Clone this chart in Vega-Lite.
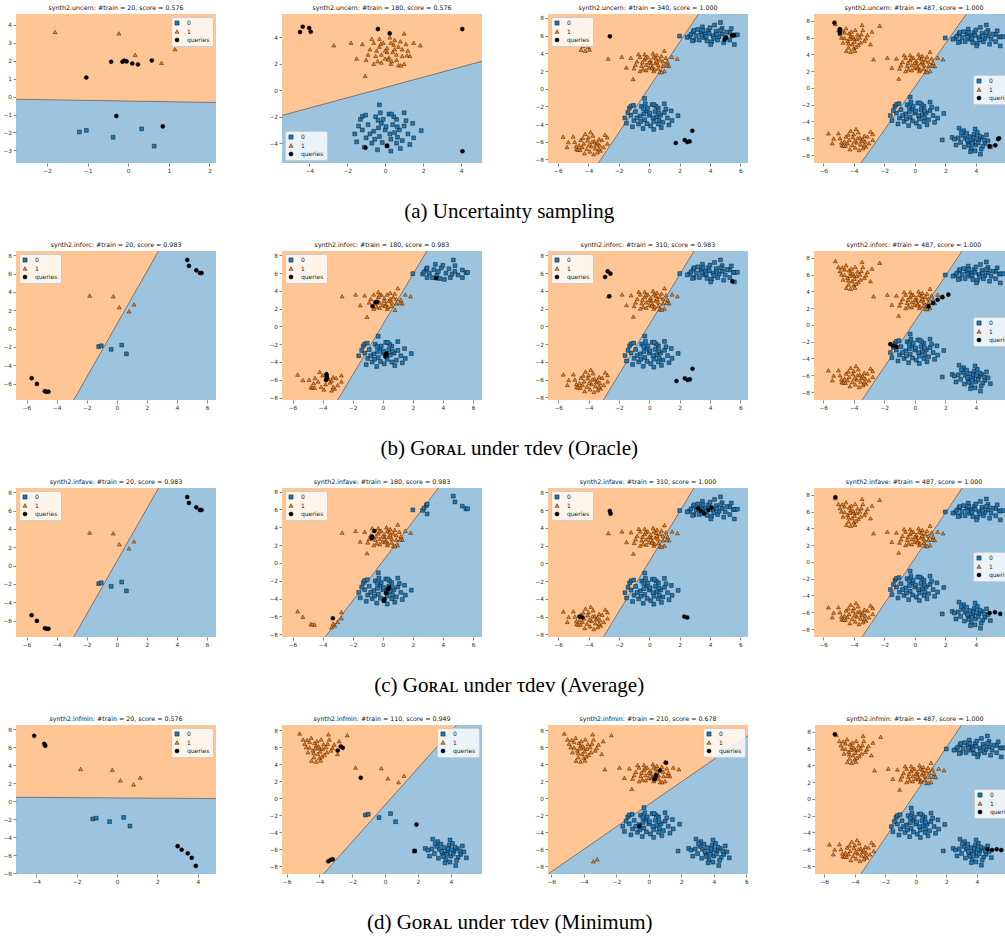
{
"$schema": "https://vega.github.io/schema/vega-lite/v6.json",
"padding": {"top": 4, "left": 2, "right": 0, "bottom": 4},
"datasets": {
"bd": [
{"p":"a1","x":-12,"y":0.19},{"p":"a1","x":12,"y":-0.69},
{"p":"a2","x":-12,"y":-4.46},{"p":"a2","x":12,"y":4.88},
{"p":"a3","x":-12,"y":-30.54},{"p":"a3","x":12,"y":30.82},
{"p":"a4","x":-12,"y":-30.76},{"p":"a4","x":12,"y":30.97},
{"p":"b1","x":-12,"y":-34.17},{"p":"b1","x":12,"y":35.07},
{"p":"b2","x":-12,"y":-33.7},{"p":"b2","x":12,"y":34.1},
{"p":"b3","x":-12,"y":-33.57},{"p":"b3","x":12,"y":33.97},
{"p":"b4","x":-12,"y":-32.1},{"p":"b4","x":12,"y":32.9},
{"p":"c1","x":-12,"y":-34.17},{"p":"c1","x":12,"y":35.07},
{"p":"c2","x":-12,"y":-26.42},{"p":"c2","x":12,"y":26.81},
{"p":"c3","x":-12,"y":-33.57},{"p":"c3","x":12,"y":33.97},
{"p":"c4","x":-12,"y":-32.1},{"p":"c4","x":12,"y":32.9},
{"p":"d1","x":-12,"y":0.55},{"p":"d1","x":12,"y":0.2},
{"p":"d2","x":-12,"y":-26.7},{"p":"d2","x":12,"y":25.14},
{"p":"d3","x":-12,"y":-16.56},{"p":"d3","x":12,"y":15.12},
{"p":"d4","x":-12,"y":-31.55},{"p":"d4","x":12,"y":33.01}
],
"pts": [
{"c":"T2","i":0,"k":"1","x":-2.7,"y":3.4},{"c":"T2","i":1,"k":"1","x":-1.5,"y":2.4},{"c":"T2","i":2,"k":"1","x":-1.05,"y":1.1},{"c":"T2","i":3,"k":"1","x":1.85,"y":3.4},{"c":"T2","i":4,"k":"1","x":1.0,"y":4.3},
{"c":"T2","i":5,"k":"1","x":-0.6,"y":3.6},{"c":"T2","i":6,"k":"1","x":-0.3,"y":3.9},{"c":"T2","i":7,"k":"1","x":0.5,"y":3.8},{"c":"T2","i":8,"k":"1","x":-0.4,"y":2.2},{"c":"T2","i":9,"k":"1","x":0.3,"y":2.0},
{"c":"T2","i":10,"k":"1","x":0.9,"y":2.6},{"c":"T2","i":11,"k":"1","x":-0.8,"y":3.1},{"c":"T2","i":12,"k":"1","x":-0.2,"y":2.7},{"c":"T2","i":13,"k":"1","x":0.1,"y":3.2},{"c":"T2","i":14,"k":"1","x":0.4,"y":2.9},
{"c":"T2","i":15,"k":"1","x":0.7,"y":3.3},{"c":"T2","i":16,"k":"1","x":-0.5,"y":2.6},{"c":"T2","i":17,"k":"1","x":0.0,"y":2.4},{"c":"T2","i":18,"k":"1","x":0.6,"y":2.3},{"c":"T2","i":19,"k":"1","x":1.2,"y":3.0},
{"c":"T2","i":20,"k":"1","x":-0.9,"y":2.7},{"c":"T2","i":21,"k":"1","x":-0.1,"y":3.6},{"c":"T2","i":22,"k":"1","x":0.3,"y":3.6},{"c":"T2","i":23,"k":"1","x":0.8,"y":3.7},{"c":"T2","i":24,"k":"1","x":1.3,"y":2.6},
{"c":"T2","i":25,"k":"1","x":-0.6,"y":2.0},{"c":"T2","i":26,"k":"1","x":0.2,"y":2.5},{"c":"T2","i":27,"k":"1","x":0.5,"y":3.1},{"c":"T2","i":28,"k":"1","x":-0.3,"y":3.3},{"c":"T2","i":29,"k":"1","x":0.1,"y":2.9},
{"c":"T2","i":30,"k":"1","x":1.5,"y":3.6},{"c":"T2","i":31,"k":"1","x":-1.2,"y":3.5},{"c":"T2","i":32,"k":"1","x":0.6,"y":2.7},{"c":"T2","i":33,"k":"1","x":-0.2,"y":2.1},{"c":"T2","i":34,"k":"1","x":0.9,"y":3.1},
{"c":"T2","i":35,"k":"1","x":0.35,"y":2.2},{"c":"T2","i":36,"k":"1","x":-0.7,"y":3.9},{"c":"T2","i":37,"k":"1","x":0.0,"y":3.0},{"c":"T2","i":38,"k":"1","x":0.45,"y":3.45},{"c":"T2","i":39,"k":"1","x":1.0,"y":2.0},
{"c":"T2","i":40,"k":"1","x":-0.45,"y":3.0},{"c":"T2","i":41,"k":"1","x":0.25,"y":4.0},{"c":"T2","i":42,"k":"1","x":1.1,"y":3.5},{"c":"T2","i":43,"k":"1","x":-1.0,"y":2.3},{"c":"T2","i":44,"k":"1","x":0.7,"y":1.9},
{"c":"S2","i":0,"k":"0","x":-0.3,"y":-1.1},{"c":"S2","i":1,"k":"0","x":1.9,"y":-3.05},{"c":"S2","i":2,"k":"0","x":-1.3,"y":-2.2},{"c":"S2","i":3,"k":"0","x":1.0,"y":-1.7},{"c":"S2","i":4,"k":"0","x":-1.6,"y":-3.3},
{"c":"S2","i":5,"k":"0","x":-0.5,"y":-2.0},{"c":"S2","i":6,"k":"0","x":0.2,"y":-1.8},{"c":"S2","i":7,"k":"0","x":0.6,"y":-2.2},{"c":"S2","i":8,"k":"0","x":-0.9,"y":-2.6},{"c":"S2","i":9,"k":"0","x":-0.2,"y":-2.5},
{"c":"S2","i":10,"k":"0","x":0.4,"y":-2.6},{"c":"S2","i":11,"k":"0","x":1.0,"y":-2.7},{"c":"S2","i":12,"k":"0","x":-1.2,"y":-3.0},{"c":"S2","i":13,"k":"0","x":-0.6,"y":-3.1},{"c":"S2","i":14,"k":"0","x":0.0,"y":-3.0},
{"c":"S2","i":15,"k":"0","x":0.5,"y":-3.2},{"c":"S2","i":16,"k":"0","x":1.2,"y":-3.3},{"c":"S2","i":17,"k":"0","x":-1.0,"y":-3.6},{"c":"S2","i":18,"k":"0","x":-0.3,"y":-3.5},{"c":"S2","i":19,"k":"0","x":0.3,"y":-3.7},
{"c":"S2","i":20,"k":"0","x":0.9,"y":-3.8},{"c":"S2","i":21,"k":"0","x":-0.7,"y":-4.0},{"c":"S2","i":22,"k":"0","x":0.1,"y":-4.2},{"c":"S2","i":23,"k":"0","x":0.6,"y":-4.0},{"c":"S2","i":24,"k":"0","x":-0.4,"y":-4.5},
{"c":"S2","i":25,"k":"0","x":1.3,"y":-4.1},{"c":"S2","i":26,"k":"0","x":-1.4,"y":-2.7},{"c":"S2","i":27,"k":"0","x":-0.1,"y":-2.2},{"c":"S2","i":28,"k":"0","x":0.75,"y":-3.0},{"c":"S2","i":29,"k":"0","x":-0.8,"y":-3.3},
{"c":"S2","i":30,"k":"0","x":0.25,"y":-3.3},{"c":"S2","i":31,"k":"0","x":-0.35,"y":-2.85},{"c":"S2","i":32,"k":"0","x":1.5,"y":-3.6},{"c":"S2","i":33,"k":"0","x":0.45,"y":-2.0},{"c":"S2","i":34,"k":"0","x":-1.1,"y":-4.3},
{"c":"S2","i":35,"k":"0","x":0.8,"y":-4.4},{"c":"S2","i":36,"k":"0","x":-0.15,"y":-3.95},{"c":"S2","i":37,"k":"0","x":0.05,"y":-2.75},{"c":"S2","i":38,"k":"0","x":-0.55,"y":-3.7},{"c":"S2","i":39,"k":"0","x":1.45,"y":-2.5},
{"c":"S2","i":40,"k":"0","x":-1.5,"y":-3.9},{"c":"S2","i":41,"k":"0","x":0.65,"y":-3.55},{"c":"S2","i":42,"k":"0","x":-0.25,"y":-1.7},{"c":"S2","i":43,"k":"0","x":0.3,"y":-4.6},{"c":"S2","i":44,"k":"0","x":1.1,"y":-2.3},
{"c":"S1","i":0,"k":"0","x":4.69,"y":7.49},{"c":"S1","i":1,"k":"0","x":4.8,"y":6.84},{"c":"S1","i":2,"k":"0","x":5.29,"y":6.36},{"c":"S1","i":3,"k":"0","x":5.53,"y":6.07},{"c":"S1","i":4,"k":"0","x":5.64,"y":6.07},
{"c":"S1","i":5,"k":"0","x":2.0,"y":5.95},{"c":"S1","i":6,"k":"0","x":2.65,"y":5.9},{"c":"S1","i":7,"k":"0","x":2.75,"y":6.15},{"c":"S1","i":8,"k":"0","x":2.9,"y":6.45},{"c":"S1","i":9,"k":"0","x":2.95,"y":6.6},
{"c":"S1","i":10,"k":"0","x":2.95,"y":5.5},{"c":"S1","i":11,"k":"0","x":3.4,"y":6.4},{"c":"S1","i":12,"k":"0","x":3.6,"y":5.8},{"c":"S1","i":13,"k":"0","x":3.9,"y":6.6},{"c":"S1","i":14,"k":"0","x":4.2,"y":6.0},
{"c":"S1","i":15,"k":"0","x":4.5,"y":5.5},{"c":"S1","i":16,"k":"0","x":3.3,"y":5.5},{"c":"S1","i":17,"k":"0","x":4.0,"y":6.9},{"c":"S1","i":18,"k":"0","x":4.8,"y":6.2},{"c":"S1","i":19,"k":"0","x":3.7,"y":6.2},
{"c":"S1","i":20,"k":"0","x":4.4,"y":6.5},{"c":"S1","i":21,"k":"0","x":5.0,"y":5.8},{"c":"S1","i":22,"k":"0","x":3.1,"y":6.0},{"c":"S1","i":23,"k":"0","x":4.1,"y":5.3},{"c":"S1","i":24,"k":"0","x":5.3,"y":5.5},
{"c":"S1","i":25,"k":"0","x":3.5,"y":7.0},{"c":"S1","i":26,"k":"0","x":4.6,"y":5.9},{"c":"S1","i":27,"k":"0","x":3.8,"y":5.4},{"c":"S1","i":28,"k":"0","x":4.3,"y":7.2},{"c":"S1","i":29,"k":"0","x":5.6,"y":5.0},
{"c":"S1","i":30,"k":"0","x":2.5,"y":5.8},{"c":"S1","i":31,"k":"0","x":3.95,"y":6.25},{"c":"S1","i":32,"k":"0","x":4.7,"y":6.6},{"c":"S1","i":33,"k":"0","x":3.2,"y":6.7},{"c":"S1","i":34,"k":"0","x":5.1,"y":6.4},
{"c":"S1","i":35,"k":"0","x":4.25,"y":5.7},{"c":"S1","i":36,"k":"0","x":3.55,"y":6.6},{"c":"S1","i":37,"k":"0","x":4.9,"y":5.2},{"c":"S1","i":38,"k":"0","x":5.8,"y":6.1},{"c":"S1","i":39,"k":"0","x":3.75,"y":5.9},
{"c":"S1","i":40,"k":"0","x":4.45,"y":6.15},{"c":"S1","i":41,"k":"0","x":2.85,"y":5.4},{"c":"S1","i":42,"k":"0","x":4.05,"y":5.0},{"c":"S1","i":43,"k":"0","x":5.4,"y":6.8},{"c":"S1","i":44,"k":"0","x":3.45,"y":6.05},
{"c":"T3","i":0,"k":"1","x":-5.66,"y":-5.42},{"c":"T3","i":1,"k":"1","x":-5.31,"y":-6.04},{"c":"T3","i":2,"k":"1","x":-4.78,"y":-6.84},{"c":"T3","i":3,"k":"1","x":-4.67,"y":-6.9},{"c":"T3","i":4,"k":"1","x":-4.54,"y":-6.9},
{"c":"T3","i":5,"k":"1","x":-2.75,"y":-5.5},{"c":"T3","i":6,"k":"1","x":-2.75,"y":-6.2},{"c":"T3","i":7,"k":"1","x":-3.0,"y":-6.6},{"c":"T3","i":8,"k":"1","x":-3.2,"y":-7.0},{"c":"T3","i":9,"k":"1","x":-3.4,"y":-7.2},
{"c":"T3","i":10,"k":"1","x":-3.3,"y":-6.8},{"c":"T3","i":11,"k":"1","x":-4.0,"y":-5.5},{"c":"T3","i":12,"k":"1","x":-3.6,"y":-5.9},{"c":"T3","i":13,"k":"1","x":-4.3,"y":-6.2},{"c":"T3","i":14,"k":"1","x":-3.8,"y":-6.5},
{"c":"T3","i":15,"k":"1","x":-4.5,"y":-5.8},{"c":"T3","i":16,"k":"1","x":-3.5,"y":-6.3},{"c":"T3","i":17,"k":"1","x":-4.1,"y":-6.8},{"c":"T3","i":18,"k":"1","x":-3.7,"y":-5.3},{"c":"T3","i":19,"k":"1","x":-4.9,"y":-6.0},
{"c":"T3","i":20,"k":"1","x":-3.3,"y":-5.7},{"c":"T3","i":21,"k":"1","x":-4.2,"y":-5.1},{"c":"T3","i":22,"k":"1","x":-3.9,"y":-7.1},{"c":"T3","i":23,"k":"1","x":-4.6,"y":-6.4},{"c":"T3","i":24,"k":"1","x":-3.4,"y":-6.1},
{"c":"T3","i":25,"k":"1","x":-3.1,"y":-5.8},{"c":"T3","i":26,"k":"1","x":-4.4,"y":-6.6},{"c":"T3","i":27,"k":"1","x":-3.75,"y":-6.0},{"c":"T3","i":28,"k":"1","x":-4.05,"y":-5.85},{"c":"T3","i":29,"k":"1","x":-3.55,"y":-6.75},
{"c":"T3","i":30,"k":"1","x":-5.0,"y":-5.4},{"c":"T3","i":31,"k":"1","x":-2.9,"y":-5.2},{"c":"T3","i":32,"k":"1","x":-4.25,"y":-7.3},{"c":"T3","i":33,"k":"1","x":-3.65,"y":-7.4},{"c":"T3","i":34,"k":"1","x":-4.8,"y":-6.5},
{"c":"T3","i":35,"k":"1","x":-3.95,"y":-6.35},{"c":"T3","i":36,"k":"1","x":-3.25,"y":-6.4},{"c":"T3","i":37,"k":"1","x":-4.35,"y":-5.55},{"c":"T3","i":38,"k":"1","x":-5.4,"y":-6.6},{"c":"T3","i":39,"k":"1","x":-3.85,"y":-4.9},
{"c":"T1","i":0,"k":"1","x":-4.48,"y":4.41},{"c":"T1","i":1,"k":"1","x":-4.34,"y":4.81},{"c":"T1","i":2,"k":"1","x":-4.0,"y":4.71},{"c":"T1","i":3,"k":"1","x":-3.92,"y":4.43},{"c":"T1","i":4,"k":"1","x":-4.2,"y":4.3},
{"c":"T1","i":5,"k":"1","x":-4.6,"y":6.6},{"c":"T1","i":6,"k":"1","x":-4.2,"y":6.2},{"c":"T1","i":7,"k":"1","x":-3.8,"y":5.8},{"c":"T1","i":8,"k":"1","x":-4.4,"y":5.6},{"c":"T1","i":9,"k":"1","x":-3.5,"y":6.4},
{"c":"T1","i":10,"k":"1","x":-4.8,"y":6.0},{"c":"T1","i":11,"k":"1","x":-3.9,"y":6.9},{"c":"T1","i":12,"k":"1","x":-4.1,"y":5.2},{"c":"T1","i":13,"k":"1","x":-3.3,"y":5.6},{"c":"T1","i":14,"k":"1","x":-4.7,"y":5.4},
{"c":"T1","i":15,"k":"1","x":-3.6,"y":6.0},{"c":"T1","i":16,"k":"1","x":-4.3,"y":6.5},{"c":"T1","i":17,"k":"1","x":-5.0,"y":6.9},{"c":"T1","i":18,"k":"1","x":-3.1,"y":6.3},{"c":"T1","i":19,"k":"1","x":-4.0,"y":5.9},
{"c":"T1","i":20,"k":"1","x":-3.7,"y":5.1},{"c":"T1","i":21,"k":"1","x":-4.5,"y":7.1},{"c":"T1","i":22,"k":"1","x":-2.3,"y":7.4},{"c":"T1","i":23,"k":"1","x":-2.8,"y":6.7},{"c":"T1","i":24,"k":"1","x":-4.9,"y":6.4},
{"c":"T1","i":25,"k":"1","x":-3.4,"y":6.9},{"c":"T1","i":26,"k":"1","x":-4.15,"y":6.7},{"c":"T1","i":27,"k":"1","x":-3.95,"y":5.5},{"c":"T1","i":28,"k":"1","x":-4.6,"y":5.95},{"c":"T1","i":29,"k":"1","x":-3.2,"y":5.9},
{"c":"T1","i":30,"k":"1","x":-5.2,"y":7.6},{"c":"T1","i":31,"k":"1","x":-3.75,"y":6.35},{"c":"T1","i":32,"k":"1","x":-4.35,"y":5.3},{"c":"T1","i":33,"k":"1","x":-3.55,"y":5.4},{"c":"T1","i":34,"k":"1","x":-2.9,"y":5.2},
{"c":"T1","i":35,"k":"1","x":-4.75,"y":6.85},{"c":"T1","i":36,"k":"1","x":-4.05,"y":6.1},{"c":"T1","i":37,"k":"1","x":-3.85,"y":4.9},{"c":"T1","i":38,"k":"1","x":-3.45,"y":7.5},{"c":"T1","i":39,"k":"1","x":-4.25,"y":5.85},
{"c":"S3","i":0,"k":"0","x":2.45,"y":-5.9},{"c":"S3","i":1,"k":"0","x":2.9,"y":-4.8},{"c":"S3","i":2,"k":"0","x":4.95,"y":-7.0},{"c":"S3","i":3,"k":"0","x":3.2,"y":-5.1},{"c":"S3","i":4,"k":"0","x":3.5,"y":-6.5},
{"c":"S3","i":5,"k":"0","x":3.9,"y":-5.5},{"c":"S3","i":6,"k":"0","x":4.2,"y":-6.2},{"c":"S3","i":7,"k":"0","x":3.6,"y":-5.8},{"c":"S3","i":8,"k":"0","x":4.0,"y":-6.8},{"c":"S3","i":9,"k":"0","x":3.3,"y":-6.0},
{"c":"S3","i":10,"k":"0","x":4.4,"y":-5.9},{"c":"S3","i":11,"k":"0","x":3.8,"y":-6.3},{"c":"S3","i":12,"k":"0","x":4.1,"y":-5.3},{"c":"S3","i":13,"k":"0","x":3.0,"y":-6.5},{"c":"S3","i":14,"k":"0","x":4.6,"y":-6.6},
{"c":"S3","i":15,"k":"0","x":3.7,"y":-7.2},{"c":"S3","i":16,"k":"0","x":2.7,"y":-6.8},{"c":"S3","i":17,"k":"0","x":4.3,"y":-7.9},{"c":"S3","i":18,"k":"0","x":3.95,"y":-7.5},{"c":"S3","i":19,"k":"0","x":3.4,"y":-5.4},
{"c":"S3","i":20,"k":"0","x":4.7,"y":-5.6},{"c":"S3","i":21,"k":"0","x":2.6,"y":-6.1},{"c":"S3","i":22,"k":"0","x":3.55,"y":-6.85},{"c":"S3","i":23,"k":"0","x":4.15,"y":-6.55},{"c":"S3","i":24,"k":"0","x":3.85,"y":-5.95},
{"c":"S3","i":25,"k":"0","x":4.45,"y":-6.95},{"c":"S3","i":26,"k":"0","x":3.15,"y":-5.65},{"c":"S3","i":27,"k":"0","x":3.75,"y":-6.6},{"c":"S3","i":28,"k":"0","x":4.25,"y":-5.75},{"c":"S3","i":29,"k":"0","x":3.05,"y":-5.35},
{"c":"S3","i":30,"k":"0","x":4.8,"y":-6.3},{"c":"S3","i":31,"k":"0","x":3.65,"y":-7.6},{"c":"S3","i":32,"k":"0","x":1.8,"y":-6.2},{"c":"S3","i":33,"k":"0","x":4.35,"y":-7.3},{"c":"S3","i":34,"k":"0","x":3.45,"y":-6.25},
{"c":"S3","i":35,"k":"0","x":4.05,"y":-6.05},{"c":"S3","i":36,"k":"0","x":2.85,"y":-5.95},{"c":"S3","i":37,"k":"0","x":3.95,"y":-4.9},{"c":"S3","i":38,"k":"0","x":4.55,"y":-6.2},{"c":"S3","i":39,"k":"0","x":3.25,"y":-7.05},
{"c":"I","k":"1","x":-1.8,"y":3.6},{"c":"I","k":"1","x":-0.23,"y":3.52},{"c":"I","k":"1","x":0.17,"y":2.33},{"c":"I","k":"1","x":0.82,"y":1.88},{"c":"I","k":"1","x":1.15,"y":2.64},
{"c":"I","k":"0","x":-1.2,"y":-1.97},{"c":"I","k":"0","x":-1.03,"y":-1.88},{"c":"I","k":"0","x":-0.37,"y":-2.27},{"c":"I","k":"0","x":0.33,"y":-1.8},{"c":"I","k":"0","x":0.64,"y":-2.76},
{"c":"X","p":"d3","k":"1","x":-3.41,"y":-7.41},{"c":"X","p":"d3","k":"1","x":-3.17,"y":-7.18},
{"c":"Q","p":"a1","k":"queries","x":-1.03,"y":1.06},{"c":"Q","p":"a1","k":"queries","x":-0.42,"y":1.94},{"c":"Q","p":"a1","k":"queries","x":-0.14,"y":1.94},{"c":"Q","p":"a1","k":"queries","x":-0.1,"y":2.0},{"c":"Q","p":"a1","k":"queries","x":-0.04,"y":1.96},
{"c":"Q","p":"a1","k":"queries","x":0.1,"y":1.84},{"c":"Q","p":"a1","k":"queries","x":0.24,"y":1.79},{"c":"Q","p":"a1","k":"queries","x":0.58,"y":2.01},{"c":"Q","p":"a1","k":"queries","x":-0.29,"y":-1.08},{"c":"Q","p":"a1","k":"queries","x":0.85,"y":-1.66},
{"c":"Q","p":"a2","k":"queries","x":-4.48,"y":4.41},{"c":"Q","p":"a2","k":"queries","x":-4.34,"y":4.81},{"c":"Q","p":"a2","k":"queries","x":-4.0,"y":4.71},{"c":"Q","p":"a2","k":"queries","x":-3.92,"y":4.43},{"c":"Q","p":"a2","k":"queries","x":-0.38,"y":4.63},
{"c":"Q","p":"a2","k":"queries","x":0.24,"y":4.3},{"c":"Q","p":"a2","k":"queries","x":4.06,"y":4.63},{"c":"Q","p":"a2","k":"queries","x":-1.03,"y":-4.35},{"c":"Q","p":"a2","k":"queries","x":0.1,"y":-4.2},{"c":"Q","p":"a2","k":"queries","x":4.07,"y":-4.61},
{"c":"Q","p":"a3","k":"queries","x":-2.58,"y":5.92},{"c":"Q","p":"a3","k":"queries","x":4.96,"y":5.54},{"c":"Q","p":"a3","k":"queries","x":5.07,"y":5.77},{"c":"Q","p":"a3","k":"queries","x":5.44,"y":5.99},{"c":"Q","p":"a3","k":"queries","x":5.57,"y":6.03},
{"c":"Q","p":"a3","k":"queries","x":2.84,"y":-4.76},{"c":"Q","p":"a3","k":"queries","x":2.34,"y":-5.8},{"c":"Q","p":"a3","k":"queries","x":2.51,"y":-6.03},{"c":"Q","p":"a3","k":"queries","x":2.66,"y":-5.96},{"c":"Q","p":"a3","k":"queries","x":1.75,"y":-6.14},
{"c":"Q","p":"a4","k":"queries","x":-5.26,"y":7.76},{"c":"Q","p":"a4","k":"queries","x":-4.91,"y":7.0},{"c":"Q","p":"a4","k":"queries","x":-4.91,"y":6.73},{"c":"Q","p":"a4","k":"queries","x":-4.91,"y":6.54},
{"c":"Q","p":"a4","k":"queries","x":4.89,"y":-6.97},{"c":"Q","p":"a4","k":"queries","x":5.28,"y":-6.85},{"c":"Q","p":"a4","k":"queries","x":5.46,"y":-6.1},{"c":"Q","p":"a4","k":"queries","x":5.52,"y":-6.0},
{"c":"Q","p":"b1","k":"queries","x":-5.66,"y":-5.42},{"c":"Q","p":"b1","k":"queries","x":-5.31,"y":-6.04},{"c":"Q","p":"b1","k":"queries","x":-4.78,"y":-6.84},{"c":"Q","p":"b1","k":"queries","x":-4.67,"y":-6.9},{"c":"Q","p":"b1","k":"queries","x":-4.54,"y":-6.9},
{"c":"Q","p":"b1","k":"queries","x":4.69,"y":7.49},{"c":"Q","p":"b1","k":"queries","x":4.8,"y":6.84},{"c":"Q","p":"b1","k":"queries","x":5.29,"y":6.36},{"c":"Q","p":"b1","k":"queries","x":5.53,"y":6.07},{"c":"Q","p":"b1","k":"queries","x":5.64,"y":6.07},
{"c":"Q","p":"b2","k":"queries","x":-3.75,"y":-5.39},{"c":"Q","p":"b2","k":"queries","x":-3.73,"y":-5.66},{"c":"Q","p":"b2","k":"queries","x":-3.71,"y":-5.84},{"c":"Q","p":"b2","k":"queries","x":-3.77,"y":-6.03},
{"c":"Q","p":"b2","k":"queries","x":-0.68,"y":2.28},{"c":"Q","p":"b2","k":"queries","x":-0.49,"y":2.73},{"c":"Q","p":"b2","k":"queries","x":-0.38,"y":2.77},{"c":"Q","p":"b2","k":"queries","x":0.18,"y":-3.22},
{"c":"Q","p":"b2","k":"queries","x":0.26,"y":-3.03},{"c":"Q","p":"b2","k":"queries","x":0.18,"y":-3.41},{"c":"Q","p":"b2","k":"queries","x":3.55,"y":5.43},
{"c":"Q","p":"b3","k":"queries","x":-2.91,"y":5.56},{"c":"Q","p":"b3","k":"queries","x":-2.74,"y":6.2},{"c":"Q","p":"b3","k":"queries","x":-2.56,"y":5.94},{"c":"Q","p":"b3","k":"queries","x":-2.63,"y":3.39},{"c":"Q","p":"b3","k":"queries","x":5.47,"y":5.07},
{"c":"Q","p":"b3","k":"queries","x":1.79,"y":-6.16},{"c":"Q","p":"b3","k":"queries","x":2.34,"y":-5.86},{"c":"Q","p":"b3","k":"queries","x":2.52,"y":-6.05},{"c":"Q","p":"b3","k":"queries","x":2.67,"y":-5.97},{"c":"Q","p":"b3","k":"queries","x":2.84,"y":-4.78},
{"c":"Q","p":"b4","k":"queries","x":0.9,"y":2.2},{"c":"Q","p":"b4","k":"queries","x":1.2,"y":2.6},{"c":"Q","p":"b4","k":"queries","x":1.5,"y":3.0},{"c":"Q","p":"b4","k":"queries","x":1.8,"y":3.3},{"c":"Q","p":"b4","k":"queries","x":2.2,"y":3.6},
{"c":"Q","p":"b4","k":"queries","x":-1.6,"y":-2.3},{"c":"Q","p":"b4","k":"queries","x":-1.4,"y":-2.5},{"c":"Q","p":"b4","k":"queries","x":-1.2,"y":-2.6},
{"c":"Q","p":"c1","k":"queries","x":-5.66,"y":-5.42},{"c":"Q","p":"c1","k":"queries","x":-5.31,"y":-6.04},{"c":"Q","p":"c1","k":"queries","x":-4.78,"y":-6.84},{"c":"Q","p":"c1","k":"queries","x":-4.67,"y":-6.9},{"c":"Q","p":"c1","k":"queries","x":-4.54,"y":-6.9},
{"c":"Q","p":"c1","k":"queries","x":4.69,"y":7.49},{"c":"Q","p":"c1","k":"queries","x":4.8,"y":6.84},{"c":"Q","p":"c1","k":"queries","x":5.29,"y":6.36},{"c":"Q","p":"c1","k":"queries","x":5.53,"y":6.07},{"c":"Q","p":"c1","k":"queries","x":5.64,"y":6.07},
{"c":"Q","p":"c2","k":"queries","x":-0.55,"y":3.58},{"c":"Q","p":"c2","k":"queries","x":-0.71,"y":2.95},{"c":"Q","p":"c2","k":"queries","x":-0.73,"y":2.77},{"c":"Q","p":"c2","k":"queries","x":0.42,"y":-2.77},{"c":"Q","p":"c2","k":"queries","x":0.33,"y":-2.95},
{"c":"Q","p":"c2","k":"queries","x":0.22,"y":-3.39},{"c":"Q","p":"c2","k":"queries","x":0.11,"y":-4.06},{"c":"Q","p":"c2","k":"queries","x":0.07,"y":-4.24},{"c":"Q","p":"c2","k":"queries","x":-3.32,"y":-6.2},
{"c":"Q","p":"c3","k":"queries","x":-2.6,"y":5.9},{"c":"Q","p":"c3","k":"queries","x":-2.55,"y":5.6},{"c":"Q","p":"c3","k":"queries","x":3.2,"y":6.2},{"c":"Q","p":"c3","k":"queries","x":3.4,"y":5.9},{"c":"Q","p":"c3","k":"queries","x":3.6,"y":5.6},
{"c":"Q","p":"c3","k":"queries","x":3.9,"y":6.0},{"c":"Q","p":"c3","k":"queries","x":4.1,"y":6.3},{"c":"Q","p":"c3","k":"queries","x":-4.6,"y":-6.0},{"c":"Q","p":"c3","k":"queries","x":-4.4,"y":-6.1},{"c":"Q","p":"c3","k":"queries","x":2.3,"y":-6.0},{"c":"Q","p":"c3","k":"queries","x":2.5,"y":-6.1},
{"c":"Q","p":"c4","k":"queries","x":-5.2,"y":7.7},{"c":"Q","p":"c4","k":"queries","x":4.9,"y":-6.1},{"c":"Q","p":"c4","k":"queries","x":5.25,"y":-6.0},{"c":"Q","p":"c4","k":"queries","x":5.6,"y":-6.2},
{"c":"Q","p":"d1","k":"queries","x":-4.1,"y":7.3},{"c":"Q","p":"d1","k":"queries","x":-3.6,"y":6.4},{"c":"Q","p":"d1","k":"queries","x":-3.55,"y":6.2},{"c":"Q","p":"d1","k":"queries","x":3.0,"y":-5.0},
{"c":"Q","p":"d1","k":"queries","x":3.2,"y":-5.4},{"c":"Q","p":"d1","k":"queries","x":3.5,"y":-5.8},{"c":"Q","p":"d1","k":"queries","x":3.7,"y":-6.3},{"c":"Q","p":"d1","k":"queries","x":3.9,"y":-7.2},
{"c":"Q","p":"d2","k":"queries","x":-1.48,"y":2.39},{"c":"Q","p":"d2","k":"queries","x":-2.89,"y":5.6},{"c":"Q","p":"d2","k":"queries","x":-2.7,"y":6.08},{"c":"Q","p":"d2","k":"queries","x":-2.58,"y":5.92},{"c":"Q","p":"d2","k":"queries","x":1.91,"y":-3.1},
{"c":"Q","p":"d2","k":"queries","x":1.79,"y":-6.2},{"c":"Q","p":"d2","k":"queries","x":-3.46,"y":-7.41},{"c":"Q","p":"d2","k":"queries","x":-3.31,"y":-7.22},{"c":"Q","p":"d2","k":"queries","x":-3.19,"y":-7.18},
{"c":"Q","p":"d3","k":"queries","x":1.06,"y":4.16},{"c":"Q","p":"d3","k":"queries","x":0.69,"y":3.25},{"c":"Q","p":"d3","k":"queries","x":0.45,"y":2.67},{"c":"Q","p":"d3","k":"queries","x":0.39,"y":2.39},{"c":"Q","p":"d3","k":"queries","x":0.35,"y":2.27},{"c":"Q","p":"d3","k":"queries","x":-0.57,"y":-3.29},
{"c":"Q","p":"d4","k":"queries","x":-5.3,"y":7.7},{"c":"Q","p":"d4","k":"queries","x":4.7,"y":-6.0},{"c":"Q","p":"d4","k":"queries","x":5.0,"y":-6.1},{"c":"Q","p":"d4","k":"queries","x":5.3,"y":-6.0},{"c":"Q","p":"d4","k":"queries","x":5.6,"y":-6.1}
]
},
"config": {
"font": "DejaVu Sans",
"view": {"fill": "#9dc4df", "stroke": null},
"axis": {"labelFont": "DejaVu Sans", "labelFontSize": 5.8, "labelColor": "#333333", "tickColor": "#333333", "tickSize": 3, "tickWidth": 0.6, "domain": false, "grid": false, "labelPadding": 1.5},
"title": {"font": "DejaVu Sans", "fontSize": 6.3, "fontWeight": "normal", "color": "#111111", "offset": 3},
"legend": {"fillColor": "rgba(255,255,255,0.8)", "strokeColor": "#cccccc", "cornerRadius": 2, "padding": 3, "offset": 3, "labelFont": "DejaVu Sans", "labelFontSize": 6, "labelColor": "#222222", "symbolSize": 18, "rowPadding": 2.5, "symbolStrokeColor": "black", "symbolStrokeWidth": 0.4, "labelOffset": 7}
},
"spacing": 18,
"vconcat": [
{"spacing": 52, "title": {"text": "(a) Uncertainty sampling", "orient": "bottom", "anchor": "middle", "font": "Liberation Serif, DejaVu Serif", "fontSize": 21, "fontWeight": "normal", "color": "#000000", "offset": 28},
"hconcat": [
{"width": 200, "height": 149, "title": "synth2.uncern: #train = 20, score = 0.576",
"encoding": {"x": {"field": "x", "type": "quantitative", "title": null, "scale": {"domain": [-2.76, 2.16], "nice": false}, "axis": {"values": [-2,-1,0,1,2]}}, "y": {"field": "y", "type": "quantitative", "title": null, "scale": {"domain": [-3.7, 4.6], "nice": false}, "axis": {"values": [-3,-2,-1,0,1,2,3,4]}}},
"layer": [
{"data": {"name": "bd"}, "transform": [{"filter": "datum.p=='a1'"}], "mark": {"type": "area", "clip": true, "color": "#ffc594"}, "encoding": {"y2": {"datum": 200}}},
{"data": {"name": "bd"}, "transform": [{"filter": "datum.p=='a1'"}], "mark": {"type": "line", "clip": true, "color": "#555555", "strokeWidth": 0.7}, "encoding": {}},
{"data": {"name": "pts"}, "transform": [{"filter": "datum.p ? datum.p=='a1' : datum.c=='I'"}], "mark": {"type": "point", "filled": true, "opacity": 1, "stroke": "black", "strokeWidth": 0.4, "clip": true},
"encoding": {"color": {"field": "k", "type": "nominal", "title": null, "scale": {"domain": ["0","1","queries"], "range": ["#1f77b4","#ff7f0e","#000000"]}, "legend": {"orient": "top-right"}}, "shape": {"field": "k", "type": "nominal", "title": null, "scale": {"domain": ["0","1","queries"], "range": ["square","triangle-up","circle"]}, "legend": {"orient": "top-right"}}, "size": {"field": "k", "type": "ordinal", "scale": {"domain": ["0","1","queries"], "range": [15,17,24]}, "legend": null}}}
]},
{"width": 200, "height": 149, "title": "synth2.uncern: #train = 180, score = 0.576",
"encoding": {"x": {"field": "x", "type": "quantitative", "title": null, "scale": {"domain": [-5.43, 5.1], "nice": false}, "axis": {"values": [-4,-2,0,2,4]}}, "y": {"field": "y", "type": "quantitative", "title": null, "scale": {"domain": [-5.5, 5.77], "nice": false}, "axis": {"values": [-4,-2,0,2,4]}}},
"layer": [
{"data": {"name": "bd"}, "transform": [{"filter": "datum.p=='a2'"}], "mark": {"type": "area", "clip": true, "color": "#ffc594"}, "encoding": {"y2": {"datum": 200}}},
{"data": {"name": "bd"}, "transform": [{"filter": "datum.p=='a2'"}], "mark": {"type": "line", "clip": true, "color": "#555555", "strokeWidth": 0.7}, "encoding": {}},
{"data": {"name": "pts"}, "transform": [{"filter": "datum.p ? datum.p=='a2' : indexof(['I','T2','S2'], datum.c) >= 0"}], "mark": {"type": "point", "filled": true, "opacity": 1, "stroke": "black", "strokeWidth": 0.4, "clip": true},
"encoding": {"color": {"field": "k", "type": "nominal", "title": null, "scale": {"domain": ["0","1","queries"], "range": ["#1f77b4","#ff7f0e","#000000"]}, "legend": {"orient": "bottom-left"}}, "shape": {"field": "k", "type": "nominal", "title": null, "scale": {"domain": ["0","1","queries"], "range": ["square","triangle-up","circle"]}, "legend": {"orient": "bottom-left"}}, "size": {"field": "k", "type": "ordinal", "scale": {"domain": ["0","1","queries"], "range": [15,17,24]}, "legend": null}}}
]},
{"width": 200, "height": 149, "title": "synth2.uncern: #train = 340, score = 1.000",
"encoding": {"x": {"field": "x", "type": "quantitative", "title": null, "scale": {"domain": [-6.65, 6.5], "nice": false}, "axis": {"values": [-6,-4,-2,0,2,4,6]}}, "y": {"field": "y", "type": "quantitative", "title": null, "scale": {"domain": [-8.4, 8.45], "nice": false}, "axis": {"values": [-8,-6,-4,-2,0,2,4,6,8]}}},
"layer": [
{"data": {"name": "bd"}, "transform": [{"filter": "datum.p=='a3'"}], "mark": {"type": "area", "clip": true, "color": "#ffc594"}, "encoding": {"y2": {"datum": 200}}},
{"data": {"name": "bd"}, "transform": [{"filter": "datum.p=='a3'"}], "mark": {"type": "line", "clip": true, "color": "#555555", "strokeWidth": 0.7}, "encoding": {}},
{"data": {"name": "pts"}, "transform": [{"filter": "datum.p ? datum.p=='a3' : (indexof(['I','T2','S1','S2','T3'], datum.c) >= 0 || (datum.c=='T1' && datum.i<5))"}], "mark": {"type": "point", "filled": true, "opacity": 1, "stroke": "black", "strokeWidth": 0.4, "clip": true},
"encoding": {"color": {"field": "k", "type": "nominal", "title": null, "scale": {"domain": ["0","1","queries"], "range": ["#1f77b4","#ff7f0e","#000000"]}, "legend": {"orient": "top-left"}}, "shape": {"field": "k", "type": "nominal", "title": null, "scale": {"domain": ["0","1","queries"], "range": ["square","triangle-up","circle"]}, "legend": {"orient": "top-left"}}, "size": {"field": "k", "type": "ordinal", "scale": {"domain": ["0","1","queries"], "range": [15,17,24]}, "legend": null}}}
]},
{"width": 200, "height": 149, "title": "synth2.uncern: #train = 487, score = 1.000",
"encoding": {"x": {"field": "x", "type": "quantitative", "title": null, "scale": {"domain": [-6.6, 6.5], "nice": false}, "axis": {"values": [-6,-4,-2,0,2,4,6]}}, "y": {"field": "y", "type": "quantitative", "title": null, "scale": {"domain": [-8.95, 8.8], "nice": false}, "axis": {"values": [-8,-6,-4,-2,0,2,4,6,8]}}},
"layer": [
{"data": {"name": "bd"}, "transform": [{"filter": "datum.p=='a4'"}], "mark": {"type": "area", "clip": true, "color": "#ffc594"}, "encoding": {"y2": {"datum": 200}}},
{"data": {"name": "bd"}, "transform": [{"filter": "datum.p=='a4'"}], "mark": {"type": "line", "clip": true, "color": "#555555", "strokeWidth": 0.7}, "encoding": {}},
{"data": {"name": "pts"}, "transform": [{"filter": "datum.p ? datum.p=='a4' : true"}], "mark": {"type": "point", "filled": true, "opacity": 1, "stroke": "black", "strokeWidth": 0.4, "clip": true},
"encoding": {"color": {"field": "k", "type": "nominal", "title": null, "scale": {"domain": ["0","1","queries"], "range": ["#1f77b4","#ff7f0e","#000000"]}, "legend": {"orient": "none", "legendX": 159, "legendY": 61}}, "shape": {"field": "k", "type": "nominal", "title": null, "scale": {"domain": ["0","1","queries"], "range": ["square","triangle-up","circle"]}, "legend": {"orient": "none", "legendX": 159, "legendY": 61}}, "size": {"field": "k", "type": "ordinal", "scale": {"domain": ["0","1","queries"], "range": [15,17,24]}, "legend": null}}}
]}
]},
{"spacing": 52, "title": {"text": "(b) Gᴏʀᴀʟ under τdev (Oracle)", "orient": "bottom", "anchor": "middle", "font": "Liberation Serif, DejaVu Serif", "fontSize": 21, "fontWeight": "normal", "color": "#000000", "offset": 28},
"hconcat": [
{"width": 200, "height": 149, "title": "synth2.inforc: #train = 20, score = 0.983",
"encoding": {"x": {"field": "x", "type": "quantitative", "title": null, "scale": {"domain": [-6.7, 6.6], "nice": false}, "axis": {"values": [-6,-4,-2,0,2,4,6]}}, "y": {"field": "y", "type": "quantitative", "title": null, "scale": {"domain": [-7.8, 8.47], "nice": false}, "axis": {"values": [-6,-4,-2,0,2,4,6,8]}}},
"layer": [
{"data": {"name": "bd"}, "transform": [{"filter": "datum.p=='b1'"}], "mark": {"type": "area", "clip": true, "color": "#ffc594"}, "encoding": {"y2": {"datum": 200}}},
{"data": {"name": "bd"}, "transform": [{"filter": "datum.p=='b1'"}], "mark": {"type": "line", "clip": true, "color": "#555555", "strokeWidth": 0.7}, "encoding": {}},
{"data": {"name": "pts"}, "transform": [{"filter": "datum.p ? datum.p=='b1' : datum.c=='I'"}], "mark": {"type": "point", "filled": true, "opacity": 1, "stroke": "black", "strokeWidth": 0.4, "clip": true},
"encoding": {"color": {"field": "k", "type": "nominal", "title": null, "scale": {"domain": ["0","1","queries"], "range": ["#1f77b4","#ff7f0e","#000000"]}, "legend": {"orient": "top-left"}}, "shape": {"field": "k", "type": "nominal", "title": null, "scale": {"domain": ["0","1","queries"], "range": ["square","triangle-up","circle"]}, "legend": {"orient": "top-left"}}, "size": {"field": "k", "type": "ordinal", "scale": {"domain": ["0","1","queries"], "range": [15,17,24]}, "legend": null}}}
]},
{"width": 200, "height": 149, "title": "synth2.inforc: #train = 180, score = 0.983",
"encoding": {"x": {"field": "x", "type": "quantitative", "title": null, "scale": {"domain": [-6.7, 6.6], "nice": false}, "axis": {"values": [-6,-4,-2,0,2,4,6]}}, "y": {"field": "y", "type": "quantitative", "title": null, "scale": {"domain": [-8.28, 8.5], "nice": false}, "axis": {"values": [-8,-6,-4,-2,0,2,4,6,8]}}},
"layer": [
{"data": {"name": "bd"}, "transform": [{"filter": "datum.p=='b2'"}], "mark": {"type": "area", "clip": true, "color": "#ffc594"}, "encoding": {"y2": {"datum": 200}}},
{"data": {"name": "bd"}, "transform": [{"filter": "datum.p=='b2'"}], "mark": {"type": "line", "clip": true, "color": "#555555", "strokeWidth": 0.7}, "encoding": {}},
{"data": {"name": "pts"}, "transform": [{"filter": "datum.p ? datum.p=='b2' : (datum.c=='I' || (datum.c=='T2' && datum.i<36) || (datum.c=='S2' && datum.i<40) || (datum.c=='S1' && datum.i<28) || (datum.c=='T3' && datum.i<26))"}], "mark": {"type": "point", "filled": true, "opacity": 1, "stroke": "black", "strokeWidth": 0.4, "clip": true},
"encoding": {"color": {"field": "k", "type": "nominal", "title": null, "scale": {"domain": ["0","1","queries"], "range": ["#1f77b4","#ff7f0e","#000000"]}, "legend": {"orient": "top-left"}}, "shape": {"field": "k", "type": "nominal", "title": null, "scale": {"domain": ["0","1","queries"], "range": ["square","triangle-up","circle"]}, "legend": {"orient": "top-left"}}, "size": {"field": "k", "type": "ordinal", "scale": {"domain": ["0","1","queries"], "range": [15,17,24]}, "legend": null}}}
]},
{"width": 200, "height": 149, "title": "synth2.inforc: #train = 310, score = 0.983",
"encoding": {"x": {"field": "x", "type": "quantitative", "title": null, "scale": {"domain": [-6.67, 6.5], "nice": false}, "axis": {"values": [-6,-4,-2,0,2,4,6]}}, "y": {"field": "y", "type": "quantitative", "title": null, "scale": {"domain": [-8.3, 8.49], "nice": false}, "axis": {"values": [-8,-6,-4,-2,0,2,4,6,8]}}},
"layer": [
{"data": {"name": "bd"}, "transform": [{"filter": "datum.p=='b3'"}], "mark": {"type": "area", "clip": true, "color": "#ffc594"}, "encoding": {"y2": {"datum": 200}}},
{"data": {"name": "bd"}, "transform": [{"filter": "datum.p=='b3'"}], "mark": {"type": "line", "clip": true, "color": "#555555", "strokeWidth": 0.7}, "encoding": {}},
{"data": {"name": "pts"}, "transform": [{"filter": "datum.p ? datum.p=='b3' : indexof(['I','T2','S1','S2','T3'], datum.c) >= 0"}], "mark": {"type": "point", "filled": true, "opacity": 1, "stroke": "black", "strokeWidth": 0.4, "clip": true},
"encoding": {"color": {"field": "k", "type": "nominal", "title": null, "scale": {"domain": ["0","1","queries"], "range": ["#1f77b4","#ff7f0e","#000000"]}, "legend": {"orient": "top-left"}}, "shape": {"field": "k", "type": "nominal", "title": null, "scale": {"domain": ["0","1","queries"], "range": ["square","triangle-up","circle"]}, "legend": {"orient": "top-left"}}, "size": {"field": "k", "type": "ordinal", "scale": {"domain": ["0","1","queries"], "range": [15,17,24]}, "legend": null}}}
]},
{"width": 200, "height": 149, "title": "synth2.inforc: #train = 487, score = 1.000",
"encoding": {"x": {"field": "x", "type": "quantitative", "title": null, "scale": {"domain": [-6.6, 6.5], "nice": false}, "axis": {"values": [-6,-4,-2,0,2,4,6]}}, "y": {"field": "y", "type": "quantitative", "title": null, "scale": {"domain": [-8.95, 8.8], "nice": false}, "axis": {"values": [-8,-6,-4,-2,0,2,4,6,8]}}},
"layer": [
{"data": {"name": "bd"}, "transform": [{"filter": "datum.p=='b4'"}], "mark": {"type": "area", "clip": true, "color": "#ffc594"}, "encoding": {"y2": {"datum": 200}}},
{"data": {"name": "bd"}, "transform": [{"filter": "datum.p=='b4'"}], "mark": {"type": "line", "clip": true, "color": "#555555", "strokeWidth": 0.7}, "encoding": {}},
{"data": {"name": "pts"}, "transform": [{"filter": "datum.p ? datum.p=='b4' : true"}], "mark": {"type": "point", "filled": true, "opacity": 1, "stroke": "black", "strokeWidth": 0.4, "clip": true},
"encoding": {"color": {"field": "k", "type": "nominal", "title": null, "scale": {"domain": ["0","1","queries"], "range": ["#1f77b4","#ff7f0e","#000000"]}, "legend": {"orient": "none", "legendX": 159, "legendY": 66}}, "shape": {"field": "k", "type": "nominal", "title": null, "scale": {"domain": ["0","1","queries"], "range": ["square","triangle-up","circle"]}, "legend": {"orient": "none", "legendX": 159, "legendY": 66}}, "size": {"field": "k", "type": "ordinal", "scale": {"domain": ["0","1","queries"], "range": [15,17,24]}, "legend": null}}}
]}
]},
{"spacing": 52, "title": {"text": "(c) Gᴏʀᴀʟ under τdev (Average)", "orient": "bottom", "anchor": "middle", "font": "Liberation Serif, DejaVu Serif", "fontSize": 21, "fontWeight": "normal", "color": "#000000", "offset": 28},
"hconcat": [
{"width": 200, "height": 149, "title": "synth2.infave: #train = 20, score = 0.983",
"encoding": {"x": {"field": "x", "type": "quantitative", "title": null, "scale": {"domain": [-6.7, 6.6], "nice": false}, "axis": {"values": [-6,-4,-2,0,2,4,6]}}, "y": {"field": "y", "type": "quantitative", "title": null, "scale": {"domain": [-7.8, 8.47], "nice": false}, "axis": {"values": [-6,-4,-2,0,2,4,6,8]}}},
"layer": [
{"data": {"name": "bd"}, "transform": [{"filter": "datum.p=='c1'"}], "mark": {"type": "area", "clip": true, "color": "#ffc594"}, "encoding": {"y2": {"datum": 200}}},
{"data": {"name": "bd"}, "transform": [{"filter": "datum.p=='c1'"}], "mark": {"type": "line", "clip": true, "color": "#555555", "strokeWidth": 0.7}, "encoding": {}},
{"data": {"name": "pts"}, "transform": [{"filter": "datum.p ? datum.p=='c1' : datum.c=='I'"}], "mark": {"type": "point", "filled": true, "opacity": 1, "stroke": "black", "strokeWidth": 0.4, "clip": true},
"encoding": {"color": {"field": "k", "type": "nominal", "title": null, "scale": {"domain": ["0","1","queries"], "range": ["#1f77b4","#ff7f0e","#000000"]}, "legend": {"orient": "top-left"}}, "shape": {"field": "k", "type": "nominal", "title": null, "scale": {"domain": ["0","1","queries"], "range": ["square","triangle-up","circle"]}, "legend": {"orient": "top-left"}}, "size": {"field": "k", "type": "ordinal", "scale": {"domain": ["0","1","queries"], "range": [15,17,24]}, "legend": null}}}
]},
{"width": 200, "height": 149, "title": "synth2.infave: #train = 180, score = 0.983",
"encoding": {"x": {"field": "x", "type": "quantitative", "title": null, "scale": {"domain": [-6.7, 6.6], "nice": false}, "axis": {"values": [-6,-4,-2,0,2,4,6]}}, "y": {"field": "y", "type": "quantitative", "title": null, "scale": {"domain": [-8.3, 8.4], "nice": false}, "axis": {"values": [-8,-6,-4,-2,0,2,4,6,8]}}},
"layer": [
{"data": {"name": "bd"}, "transform": [{"filter": "datum.p=='c2'"}], "mark": {"type": "area", "clip": true, "color": "#ffc594"}, "encoding": {"y2": {"datum": 200}}},
{"data": {"name": "bd"}, "transform": [{"filter": "datum.p=='c2'"}], "mark": {"type": "line", "clip": true, "color": "#555555", "strokeWidth": 0.7}, "encoding": {}},
{"data": {"name": "pts"}, "transform": [{"filter": "datum.p ? datum.p=='c2' : (indexof(['I','T2','S2'], datum.c) >= 0 || ((datum.c=='S1' || datum.c=='T3') && datum.i<11))"}], "mark": {"type": "point", "filled": true, "opacity": 1, "stroke": "black", "strokeWidth": 0.4, "clip": true},
"encoding": {"color": {"field": "k", "type": "nominal", "title": null, "scale": {"domain": ["0","1","queries"], "range": ["#1f77b4","#ff7f0e","#000000"]}, "legend": {"orient": "top-left"}}, "shape": {"field": "k", "type": "nominal", "title": null, "scale": {"domain": ["0","1","queries"], "range": ["square","triangle-up","circle"]}, "legend": {"orient": "top-left"}}, "size": {"field": "k", "type": "ordinal", "scale": {"domain": ["0","1","queries"], "range": [15,17,24]}, "legend": null}}}
]},
{"width": 200, "height": 149, "title": "synth2.infave: #train = 310, score = 1.000",
"encoding": {"x": {"field": "x", "type": "quantitative", "title": null, "scale": {"domain": [-6.67, 6.5], "nice": false}, "axis": {"values": [-6,-4,-2,0,2,4,6]}}, "y": {"field": "y", "type": "quantitative", "title": null, "scale": {"domain": [-8.3, 8.49], "nice": false}, "axis": {"values": [-8,-6,-4,-2,0,2,4,6,8]}}},
"layer": [
{"data": {"name": "bd"}, "transform": [{"filter": "datum.p=='c3'"}], "mark": {"type": "area", "clip": true, "color": "#ffc594"}, "encoding": {"y2": {"datum": 200}}},
{"data": {"name": "bd"}, "transform": [{"filter": "datum.p=='c3'"}], "mark": {"type": "line", "clip": true, "color": "#555555", "strokeWidth": 0.7}, "encoding": {}},
{"data": {"name": "pts"}, "transform": [{"filter": "datum.p ? datum.p=='c3' : indexof(['I','T2','S1','S2','T3'], datum.c) >= 0"}], "mark": {"type": "point", "filled": true, "opacity": 1, "stroke": "black", "strokeWidth": 0.4, "clip": true},
"encoding": {"color": {"field": "k", "type": "nominal", "title": null, "scale": {"domain": ["0","1","queries"], "range": ["#1f77b4","#ff7f0e","#000000"]}, "legend": {"orient": "top-left"}}, "shape": {"field": "k", "type": "nominal", "title": null, "scale": {"domain": ["0","1","queries"], "range": ["square","triangle-up","circle"]}, "legend": {"orient": "top-left"}}, "size": {"field": "k", "type": "ordinal", "scale": {"domain": ["0","1","queries"], "range": [15,17,24]}, "legend": null}}}
]},
{"width": 200, "height": 149, "title": "synth2.infave: #train = 487, score = 1.000",
"encoding": {"x": {"field": "x", "type": "quantitative", "title": null, "scale": {"domain": [-6.6, 6.5], "nice": false}, "axis": {"values": [-6,-4,-2,0,2,4,6]}}, "y": {"field": "y", "type": "quantitative", "title": null, "scale": {"domain": [-8.95, 8.8], "nice": false}, "axis": {"values": [-8,-6,-4,-2,0,2,4,6,8]}}},
"layer": [
{"data": {"name": "bd"}, "transform": [{"filter": "datum.p=='c4'"}], "mark": {"type": "area", "clip": true, "color": "#ffc594"}, "encoding": {"y2": {"datum": 200}}},
{"data": {"name": "bd"}, "transform": [{"filter": "datum.p=='c4'"}], "mark": {"type": "line", "clip": true, "color": "#555555", "strokeWidth": 0.7}, "encoding": {}},
{"data": {"name": "pts"}, "transform": [{"filter": "datum.p ? datum.p=='c4' : true"}], "mark": {"type": "point", "filled": true, "opacity": 1, "stroke": "black", "strokeWidth": 0.4, "clip": true},
"encoding": {"color": {"field": "k", "type": "nominal", "title": null, "scale": {"domain": ["0","1","queries"], "range": ["#1f77b4","#ff7f0e","#000000"]}, "legend": {"orient": "none", "legendX": 159, "legendY": 64}}, "shape": {"field": "k", "type": "nominal", "title": null, "scale": {"domain": ["0","1","queries"], "range": ["square","triangle-up","circle"]}, "legend": {"orient": "none", "legendX": 159, "legendY": 64}}, "size": {"field": "k", "type": "ordinal", "scale": {"domain": ["0","1","queries"], "range": [15,17,24]}, "legend": null}}}
]}
]},
{"spacing": 52, "title": {"text": "(d) Gᴏʀᴀʟ under τdev (Minimum)", "orient": "bottom", "anchor": "middle", "font": "Liberation Serif, DejaVu Serif", "fontSize": 21, "fontWeight": "normal", "color": "#000000", "offset": 28},
"hconcat": [
{"width": 200, "height": 149, "title": "synth2.infmin: #train = 20, score = 0.576",
"encoding": {"x": {"field": "x", "type": "quantitative", "title": null, "scale": {"domain": [-5.0, 4.9], "nice": false}, "axis": {"values": [-4,-2,0,2,4]}}, "y": {"field": "y", "type": "quantitative", "title": null, "scale": {"domain": [-8.1, 8.5], "nice": false}, "axis": {"values": [-8,-6,-4,-2,0,2,4,6,8]}}},
"layer": [
{"data": {"name": "bd"}, "transform": [{"filter": "datum.p=='d1'"}], "mark": {"type": "area", "clip": true, "color": "#ffc594"}, "encoding": {"y2": {"datum": 200}}},
{"data": {"name": "bd"}, "transform": [{"filter": "datum.p=='d1'"}], "mark": {"type": "line", "clip": true, "color": "#555555", "strokeWidth": 0.7}, "encoding": {}},
{"data": {"name": "pts"}, "transform": [{"filter": "datum.p ? datum.p=='d1' : datum.c=='I'"}], "mark": {"type": "point", "filled": true, "opacity": 1, "stroke": "black", "strokeWidth": 0.4, "clip": true},
"encoding": {"color": {"field": "k", "type": "nominal", "title": null, "scale": {"domain": ["0","1","queries"], "range": ["#1f77b4","#ff7f0e","#000000"]}, "legend": {"orient": "top-right"}}, "shape": {"field": "k", "type": "nominal", "title": null, "scale": {"domain": ["0","1","queries"], "range": ["square","triangle-up","circle"]}, "legend": {"orient": "top-right"}}, "size": {"field": "k", "type": "ordinal", "scale": {"domain": ["0","1","queries"], "range": [15,17,24]}, "legend": null}}}
]},
{"width": 200, "height": 149, "title": "synth2.infmin: #train = 110, score = 0.949",
"encoding": {"x": {"field": "x", "type": "quantitative", "title": null, "scale": {"domain": [-6.28, 5.9], "nice": false}, "axis": {"values": [-6,-4,-2,0,2,4]}}, "y": {"field": "y", "type": "quantitative", "title": null, "scale": {"domain": [-8.9, 8.6], "nice": false}, "axis": {"values": [-8,-6,-4,-2,0,2,4,6,8]}}},
"layer": [
{"data": {"name": "bd"}, "transform": [{"filter": "datum.p=='d2'"}], "mark": {"type": "area", "clip": true, "color": "#ffc594"}, "encoding": {"y2": {"datum": 200}}},
{"data": {"name": "bd"}, "transform": [{"filter": "datum.p=='d2'"}], "mark": {"type": "line", "clip": true, "color": "#555555", "strokeWidth": 0.7}, "encoding": {}},
{"data": {"name": "pts"}, "transform": [{"filter": "datum.p ? datum.p=='d2' : indexof(['I','T1','S3'], datum.c) >= 0"}], "mark": {"type": "point", "filled": true, "opacity": 1, "stroke": "black", "strokeWidth": 0.4, "clip": true},
"encoding": {"color": {"field": "k", "type": "nominal", "title": null, "scale": {"domain": ["0","1","queries"], "range": ["#1f77b4","#ff7f0e","#000000"]}, "legend": {"orient": "top-right"}}, "shape": {"field": "k", "type": "nominal", "title": null, "scale": {"domain": ["0","1","queries"], "range": ["square","triangle-up","circle"]}, "legend": {"orient": "top-right"}}, "size": {"field": "k", "type": "ordinal", "scale": {"domain": ["0","1","queries"], "range": [15,17,24]}, "legend": null}}}
]},
{"width": 200, "height": 149, "title": "synth2.infmin: #train = 210, score = 0.678",
"encoding": {"x": {"field": "x", "type": "quantitative", "title": null, "scale": {"domain": [-6.2, 6.1], "nice": false}, "axis": {"values": [-6,-4,-2,0,2,4,6]}}, "y": {"field": "y", "type": "quantitative", "title": null, "scale": {"domain": [-8.9, 8.6], "nice": false}, "axis": {"values": [-8,-6,-4,-2,0,2,4,6,8]}}},
"layer": [
{"data": {"name": "bd"}, "transform": [{"filter": "datum.p=='d3'"}], "mark": {"type": "area", "clip": true, "color": "#ffc594"}, "encoding": {"y2": {"datum": 200}}},
{"data": {"name": "bd"}, "transform": [{"filter": "datum.p=='d3'"}], "mark": {"type": "line", "clip": true, "color": "#555555", "strokeWidth": 0.7}, "encoding": {}},
{"data": {"name": "pts"}, "transform": [{"filter": "datum.p ? datum.p=='d3' : indexof(['I','T1','T2','S2','S3'], datum.c) >= 0"}], "mark": {"type": "point", "filled": true, "opacity": 1, "stroke": "black", "strokeWidth": 0.4, "clip": true},
"encoding": {"color": {"field": "k", "type": "nominal", "title": null, "scale": {"domain": ["0","1","queries"], "range": ["#1f77b4","#ff7f0e","#000000"]}, "legend": {"orient": "top-right"}}, "shape": {"field": "k", "type": "nominal", "title": null, "scale": {"domain": ["0","1","queries"], "range": ["square","triangle-up","circle"]}, "legend": {"orient": "top-right"}}, "size": {"field": "k", "type": "ordinal", "scale": {"domain": ["0","1","queries"], "range": [15,17,24]}, "legend": null}}}
]},
{"width": 200, "height": 149, "title": "synth2.infmin: #train = 487, score = 1.000",
"encoding": {"x": {"field": "x", "type": "quantitative", "title": null, "scale": {"domain": [-6.6, 6.5], "nice": false}, "axis": {"values": [-6,-4,-2,0,2,4,6]}}, "y": {"field": "y", "type": "quantitative", "title": null, "scale": {"domain": [-8.95, 8.8], "nice": false}, "axis": {"values": [-8,-6,-4,-2,0,2,4,6,8]}}},
"layer": [
{"data": {"name": "bd"}, "transform": [{"filter": "datum.p=='d4'"}], "mark": {"type": "area", "clip": true, "color": "#ffc594"}, "encoding": {"y2": {"datum": 200}}},
{"data": {"name": "bd"}, "transform": [{"filter": "datum.p=='d4'"}], "mark": {"type": "line", "clip": true, "color": "#555555", "strokeWidth": 0.7}, "encoding": {}},
{"data": {"name": "pts"}, "transform": [{"filter": "datum.p ? datum.p=='d4' : true"}], "mark": {"type": "point", "filled": true, "opacity": 1, "stroke": "black", "strokeWidth": 0.4, "clip": true},
"encoding": {"color": {"field": "k", "type": "nominal", "title": null, "scale": {"domain": ["0","1","queries"], "range": ["#1f77b4","#ff7f0e","#000000"]}, "legend": {"orient": "none", "legendX": 159, "legendY": 64}}, "shape": {"field": "k", "type": "nominal", "title": null, "scale": {"domain": ["0","1","queries"], "range": ["square","triangle-up","circle"]}, "legend": {"orient": "none", "legendX": 159, "legendY": 64}}, "size": {"field": "k", "type": "ordinal", "scale": {"domain": ["0","1","queries"], "range": [15,17,24]}, "legend": null}}}
]}
]}
]
}
